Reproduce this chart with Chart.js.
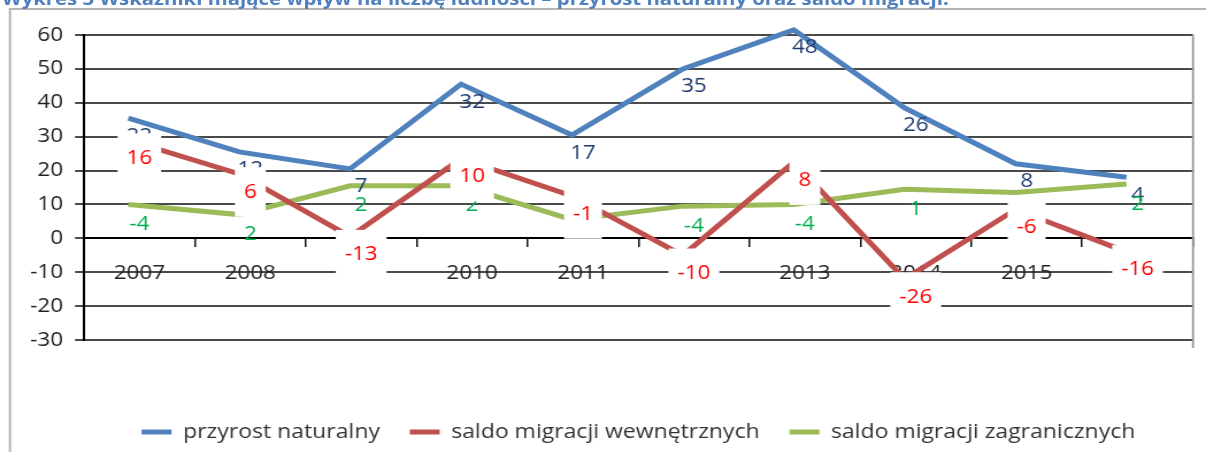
<!DOCTYPE html>
<html><head><meta charset="utf-8">
<script src="https://cdn.jsdelivr.net/npm/chart.js@4.4.1/dist/chart.umd.min.js"></script>
<style>
html,body{margin:0;padding:0;background:#fff;overflow:hidden;width:1206px;height:464px;}
#wrap{position:relative;width:1206px;height:464px;overflow:hidden;background:#fff;}
#title{position:absolute;left:2px;top:-10px;font:bold 17.7px "Open Sans",sans-serif;color:#4f81bd;white-space:nowrap;line-height:1;transform:scaleX(1.15);transform-origin:0 0;}
canvas{position:absolute;left:0;top:0;width:1206px;height:452px;}
</style></head><body>
<div id="wrap">
<canvas id="c" width="1049" height="452" style="width:1206px;height:452px;"></canvas>
<div id="title">Wykres 3 Wskaźniki mające wpływ na liczbę ludności – przyrost naturalny oraz saldo migracji.</div>
</div>
<script>
// ---- data ----
const years = ['2007','2008','2009','2010','2011','2012','2013','2014','2015','2016'];
const seriesNames = ['przyrost naturalny','saldo migracji wewnętrznych','saldo migracji zagranicznych'];
const przyrostValues = [35.5, 25.5, 20.5, 45.5, 30.5, 50, 61.5, 38.5, 22, 18];
const wewnetrzneValues = [29, 19, 0.5, 23.5, 12.5, -5, 22.5, -12, 8.5, -4];
const zagraniczneValues = [10, 7, 15.5, 15.5, 5.5, 9.5, 10, 14.5, 13.5, 16];
const przyrostLabels = ['22','12','7','32','17','35','48','26','8','4'];
const wewnetrzneLabels = ['16','6','-13','10','-1','-10','8','-26','-6','-16'];
const zagraniczneLabels = ['-4','2','2','2',null,'-4','-4','1',null,'2'];
const yMin = -30, yMax = 60, yStep = 10;

// ---- style ----
const FONT = '"Open Sans", sans-serif';
const FS = 19.5;
const LEGEND_FS = 20;
const LABEL_SHIFT = 0.1;
const colors = ['#4f81bd','#c0504d','#9bbb59'];

const labelStyles = [
  {color:'#1f3a6e', dy:18, box:false},
  {color:'#ff0000', dy:18, box:true, padX:7.8, padY:15},
  {color:'#00b050', dy:20, box:false}
];

const valueLabelPlugin = {
  id:'valueLabels',
  afterDatasetsDraw(chart){
    const ctx = chart.ctx, xs = chart.scales.x;
    [0,2,1].forEach(di=>{
      const ds = chart.data.datasets[di];
      const meta = chart.getDatasetMeta(di);
      const st = labelStyles[di];
      ctx.save();
      ctx.font = FS + 'px ' + FONT;
      ctx.textAlign = 'center';
      ctx.textBaseline = 'middle';
      meta.data.forEach((pt,i)=>{
        const txt = ds.valueLabels[i];
        if (txt === null || txt === undefined) return;
        const x = xs.getPixelForValue(i + LABEL_SHIFT);
        const y = pt.y + st.dy;
        if (st.box){
          const w = ctx.measureText(txt).width + 2*st.padX;
          const h = FS + 2*st.padY;
          ctx.fillStyle = '#ffffff';
          ctx.fillRect(x - w/2, y - h/2, w, h);
        }
        ctx.fillStyle = st.color;
        ctx.fillText(txt, x, y);
      });
      ctx.restore();
    });
  }
};

const framePlugin = {
  id:'frame',
  afterDraw(chart){
    const ctx = chart.ctx, ca = chart.chartArea;
    ctx.save();
    ctx.strokeStyle = '#b4b4b4';
    ctx.lineWidth = 2;
    ctx.beginPath();
    ctx.moveTo(8.7, chart.height + 20); ctx.lineTo(8.7, 9); ctx.lineTo(chart.width, 9);
    ctx.stroke();
    ctx.strokeStyle = '#9a9a9a';
    ctx.lineWidth = 1.8;
    ctx.beginPath();
    ctx.moveTo(ca.right, ca.top); ctx.lineTo(ca.right, ca.bottom + 8);
    ctx.stroke();
    ctx.restore();
  }
};

function mk(values, labels, idx){
  return {
    label: seriesNames[idx],
    data: values.map((v,i)=>({x:i, y:v})),
    valueLabels: labels,
    borderColor: colors[idx],
    backgroundColor: colors[idx],
    borderWidth: 5,
    pointRadius: 0,
    tension: 0,
    clip: false
  };
}

new Chart(document.getElementById('c'), {
  type:'line',
  data:{ datasets:[
    mk(przyrostValues, przyrostLabels, 0),
    mk(wewnetrzneValues, wewnetrzneLabels, 1),
    mk(zagraniczneValues, zagraniczneLabels, 2)
  ]},
  options:{
    responsive:false, animation:false, devicePixelRatio:1,
    layout:{padding:{left:0,right:11.3,top:35,bottom:0}},
    plugins:{
      tooltip:{enabled:false},
      legend:{
        position:'bottom', fullSize:false,
        labels:{
          boxWidth:26, boxHeight:5, padding:26, color:'#333',
          font:{family:FONT, size:LEGEND_FS},
          generateLabels:(chart)=>Chart.defaults.plugins.legend.labels.generateLabels(chart).map(l=>Object.assign(l,{lineWidth:0}))
        }
      }
    },
    scales:{
      x:{
        type:'linear', min:-0.4, max:9.6, position:{y:0},
        afterBuildTicks(s){ s.ticks = years.map((_,i)=>({value:i+LABEL_SHIFT})); },
        ticks:{autoSkip:false, maxRotation:0, minRotation:0, padding:15, color:'#222',
          font:{family:FONT, size:FS}, callback:(v,i)=>years[i]},
        grid:{offset:true, drawOnChartArea:false, drawTicks:true, tickLength:8, color:'#111', lineWidth:1.5},
        border:{color:'#000', width:2}
      },
      gap:{
        type:'linear', position:'bottom', display:true,
        afterFit(s){ s.height = 56; },
        ticks:{display:false}, grid:{display:false}, border:{display:false}
      },
      y:{
        min:yMin, max:yMax,
        afterFit(s){ s.width = 73; },
        ticks:{stepSize:yStep, padding:10.4, color:'#222', font:{family:FONT, size:FS}},
        grid:{color:'#4a4a4a', lineWidth:2, tickLength:7.8},
        border:{color:'#000', width:2}
      }
    }
  },
  plugins:[valueLabelPlugin, framePlugin]
});
</script>
</body></html>
